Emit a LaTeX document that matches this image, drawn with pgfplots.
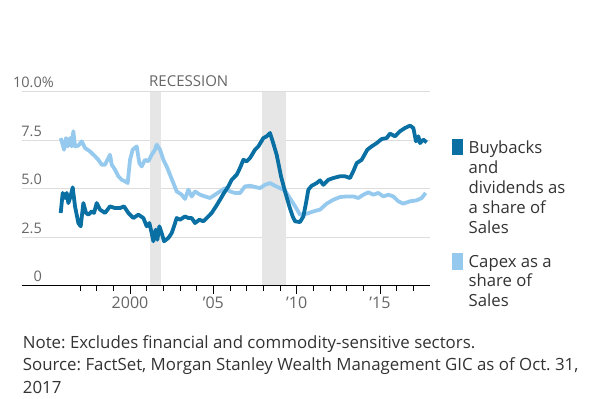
\documentclass[border=0pt]{standalone}
\usepackage{pgfplots}
\pgfplotsset{compat=1.18}
\usepackage{fontspec}
\setmainfont{Open Sans}
\frenchspacing
\definecolor{dark}{HTML}{0A6FA3}
\definecolor{light}{HTML}{95C9EE}
\definecolor{gridc}{HTML}{DDDDDD}
\definecolor{rec}{HTML}{E6E6E6}
\definecolor{lab}{HTML}{666666}
\definecolor{txt}{HTML}{333333}
\begin{document}
\begin{tikzpicture}[x=1pt,y=1pt]
\path[use as bounding box] (0,0) rectangle (600,399);
\begin{axis}[
  at={(21.7pt,113.3pt)}, anchor=south west,
  scale only axis, width=408.3pt, height=194pt,
  xmin=1993.5, xmax=2018, ymin=0, ymax=10,
  axis x line*=bottom, axis y line*=left,
  y axis line style={draw=none},
  x axis line style={black, line width=1.3pt},
  xtick={2000,2005,2010,2015}, xticklabels={2000,'05,'10,'15},
  minor xtick={1997,1998,1999,2001,2002,2003,2004,2006,2007,2008,2009,2011,2012,2013,2014,2016,2017},
  tick align=outside, major tick length=8pt, minor tick length=5pt,
  xtick style={black, line width=1pt},
  xticklabel style={font=\fontsize{16}{16}\selectfont, text=lab},
  ytick={0,2.5,5,7.5,10},
  yticklabels={0\hspace{13.3pt},2.5,5.0,7.5,10.0\rlap{\%}},
  ytick style={draw=none},
  yticklabel style={font=\fontsize{14.5}{14.5}\selectfont, text=lab, anchor=base east, inner sep=0pt, xshift=28.3pt, yshift=4pt},
  ymajorgrids, grid style={gridc, line width=1.3pt},
  clip=false,
]
\addplot[fill=rec, draw=none, forget plot] coordinates {(2001.17,0.04) (2001.83,0.04) (2001.83,10) (2001.17,10)} -- cycle;
\addplot[fill=rec, draw=none, forget plot] coordinates {(2007.92,0.04) (2009.38,0.04) (2009.38,10) (2007.92,10)} -- cycle;
% Capex as a share of sales
\addplot[light, line width=3.8pt, line join=round, mark=none] coordinates {
(1995.84,7.61) (1995.96,7.27) (1996.04,7.01) (1996.16,7.61) (1996.26,7.18) (1996.40,7.61) (1996.50,7.18) (1996.60,7.96) (1996.70,7.18) (1996.90,7.22) (1997.10,7.44) (1997.30,7.10) (1997.60,6.92) (1997.90,6.67) (1998.10,6.49) (1998.30,6.24) (1998.50,6.24) (1998.70,6.58) (1998.80,6.75) (1998.90,6.24) (1999.10,5.98) (1999.30,5.64) (1999.50,5.46) (1999.70,5.38) (1999.86,5.29) (2000.00,6.49) (2000.16,7.01) (2000.40,7.18) (2000.56,6.32) (2000.70,6.15) (2000.90,6.49) (2001.10,6.41) (2001.30,6.75) (2001.50,7.01) (2001.60,7.27) (2001.80,7.01) (2002.00,6.49) (2002.20,6.15) (2002.40,5.72) (2002.60,5.29) (2002.80,4.86) (2003.10,4.69) (2003.30,4.47) (2003.50,4.95) (2003.70,4.60) (2003.90,4.86) (2004.20,4.69) (2004.50,4.60) (2004.80,4.52) (2005.10,4.69) (2005.40,4.86) (2005.70,5.03) (2006.00,4.86) (2006.30,4.78) (2006.60,4.78) (2006.90,5.12) (2007.20,5.15) (2007.50,5.09) (2007.80,5.03) (2008.10,5.20) (2008.40,5.29) (2008.70,5.15) (2009.00,5.03) (2009.30,4.91) (2009.60,4.50) (2009.90,4.10) (2010.20,3.66) (2010.60,3.71) (2011.00,3.83) (2011.40,3.92) (2011.80,4.23) (2012.20,4.43) (2012.60,4.57) (2013.00,4.60) (2013.40,4.60) (2013.70,4.52) (2014.00,4.69) (2014.30,4.81) (2014.60,4.69) (2014.90,4.78) (2015.20,4.60) (2015.50,4.69) (2015.80,4.60) (2016.10,4.35) (2016.40,4.23) (2016.80,4.35) (2017.20,4.40) (2017.50,4.52) (2017.74,4.78)
};
% Buybacks and dividends as a share of sales
\addplot[dark, line width=3.8pt, line join=round, mark=none] coordinates {
(1995.84,3.75) (1995.96,4.78) (1996.10,4.52) (1996.20,4.78) (1996.30,4.26) (1996.40,4.52) (1996.56,5.07) (1996.70,4.09) (1996.90,3.23) (1997.04,3.06) (1997.20,4.26) (1997.36,3.75) (1997.50,3.66) (1997.70,3.83) (1997.84,3.75) (1998.00,4.26) (1998.20,3.92) (1998.50,3.75) (1998.80,4.09) (1999.10,4.00) (1999.40,4.00) (1999.64,4.09) (1999.90,3.75) (2000.20,3.49) (2000.50,3.66) (2000.80,3.49) (2001.00,3.06) (2001.16,3.23) (2001.30,2.71) (2001.40,2.29) (2001.54,2.89) (2001.64,2.37) (2001.76,3.06) (2001.90,2.71) (2002.04,2.29) (2002.30,2.46) (2002.50,2.71) (2002.64,3.06) (2002.80,3.49) (2003.00,3.40) (2003.30,3.57) (2003.50,3.49) (2003.70,3.49) (2003.90,3.23) (2004.16,3.40) (2004.40,3.32) (2004.70,3.57) (2004.90,3.75) (2005.16,4.09) (2005.40,4.43) (2005.64,4.78) (2005.90,5.12) (2006.10,5.46) (2006.40,5.72) (2006.60,6.07) (2006.80,6.49) (2007.00,6.41) (2007.20,6.58) (2007.50,7.01) (2007.70,7.18) (2008.00,7.61) (2008.20,7.70) (2008.40,7.87) (2008.56,7.44) (2008.80,6.75) (2009.06,5.64) (2009.30,4.86) (2009.56,4.09) (2009.76,3.57) (2009.90,3.32) (2010.20,3.28) (2010.40,3.57) (2010.56,4.26) (2010.70,4.95) (2010.90,5.15) (2011.20,5.29) (2011.40,5.43) (2011.60,5.20) (2011.90,5.46) (2012.20,5.55) (2012.60,5.64) (2012.90,5.64) (2013.20,5.55) (2013.44,5.98) (2013.60,6.32) (2013.90,6.49) (2014.24,7.01) (2014.50,7.18) (2014.80,7.35) (2015.10,7.56) (2015.40,7.61) (2015.60,7.84) (2015.90,7.70) (2016.20,7.96) (2016.50,8.13) (2016.80,8.25) (2017.00,8.13) (2017.16,7.44) (2017.30,7.70) (2017.40,7.35) (2017.60,7.53) (2017.80,7.39)
};
\end{axis}
% recession label
\node[anchor=base west, inner sep=0pt, text=lab, font=\fontsize{15}{15}\selectfont] at (149,312.3) {RECESSION};
% legend
\fill[dark] (451.7,244) rectangle (462.7,259.7);
\fill[light] (451.7,129) rectangle (462.7,145.7);
\foreach \t/\y in {Buybacks/245, and/225.7, dividends as/205.7, a share of/185.7, Sales/165.7, Capex as a/131.7, share of/112.3, Sales/92.3}
  \node[anchor=base west, inner sep=0pt, text=txt, font=\fontsize{16.7}{16.7}\selectfont] at (468.5,\y) {\t};
% notes
\node[anchor=base west, inner sep=0pt, text=txt, font=\fontsize{16.85}{16.85}\selectfont] at (22.7,50.7) {Note: Excludes financial and commodity-sensitive sectors.};
\node[anchor=base west, inner sep=0pt, text=txt, font=\fontsize{16.85}{16.85}\selectfont] at (22.7,28.3) {Source: FactSet, Morgan Stanley Wealth Management GIC as of Oct. 31,};
\node[anchor=base west, inner sep=0pt, text=txt, font=\fontsize{16.85}{16.85}\selectfont] at (22.7,5) {2017};
\end{tikzpicture}
\end{document}
